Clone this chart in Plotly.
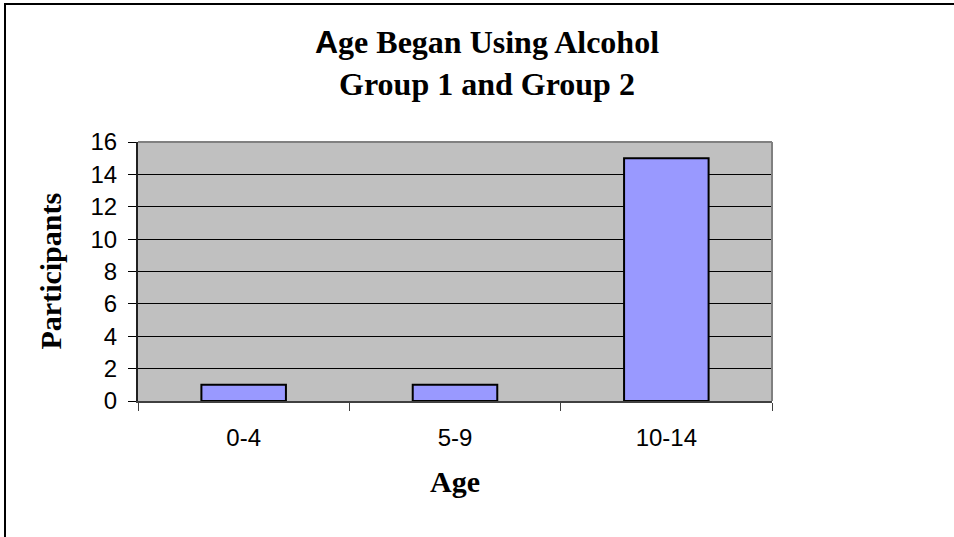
import plotly.graph_objects as go

categories = ["0-4", "5-9", "10-14"]
participants = [1, 1, 15]
y_ticks = [0, 2, 4, 6, 8, 10, 12, 14, 16]

title_lines = [
    "<b><span style='font-family:Liberation Sans, Arial, sans-serif'>A</span>ge Began Using Alcohol</b>",
    "<b>Group 1 and Group 2</b>",
]
x_title = "Age"
y_title = "Participants"

W, H = 954, 537
L, R, T, B = 138, 182, 142, 136
pw, ph = W - L - R, H - T - B

def px_x(x):
    return (x - L) / pw

def px_y(y):
    return (H - B - y) / ph

fig = go.Figure(
    go.Bar(
        x=categories,
        y=participants,
        marker=dict(color="#9999FF", line=dict(color="#000000", width=2)),
        width=0.4,
    )
)

fig.update_layout(
    width=W,
    height=H,
    margin=dict(l=L, r=R, t=T, b=B),
    paper_bgcolor="white",
    plot_bgcolor="#C0C0C0",
    showlegend=False,
    title=dict(
        text="<br>".join(title_lines),
        font=dict(family="Liberation Serif, Times New Roman, serif", size=32, color="black"),
        x=487 / W,
        xref="container",
        xanchor="center",
        y=1 - 53 / H,
        yref="container",
        yanchor="top",
    ),
    xaxis=dict(
        type="category",
        range=[-0.5, 2.5],
        showgrid=False,
        showline=True,
        linecolor="#404040",
        linewidth=2,
        ticks="outside",
        tickson="boundaries",
        ticklen=8,
        tickcolor="#404040",
        tickfont=dict(family="Liberation Sans, Arial, sans-serif", size=24, color="black"),
        ticklabelstandoff=14,
    ),
    yaxis=dict(
        range=[0, 16],
        tickvals=y_ticks,
        showgrid=True,
        gridcolor="black",
        gridwidth=1,
        showline=True,
        linecolor="#202020",
        linewidth=2,
        ticks="outside",
        ticklen=8,
        tickcolor="black",
        tickfont=dict(family="Liberation Sans, Arial, sans-serif", size=24, color="black"),
        ticklabelstandoff=6,
        zeroline=False,
    ),
    shapes=[
        dict(type="line", xref="paper", yref="paper", x0=0, x1=1, y0=1, y1=1,
             line=dict(color="#808080", width=2)),
        dict(type="line", xref="paper", yref="paper", x0=1, x1=1, y0=0, y1=1,
             line=dict(color="#808080", width=2)),
        dict(type="rect", xref="paper", yref="paper",
             x0=px_x(5), x1=px_x(W + 20), y0=px_y(H + 20), y1=px_y(4),
             line=dict(color="black", width=2)),
    ],
    annotations=[
        dict(text="<b>" + y_title + "</b>", xref="paper", yref="paper",
             x=px_x(50), y=0.5, textangle=-90, showarrow=False,
             xanchor="center", yanchor="middle",
             font=dict(family="Liberation Serif, Times New Roman, serif", size=30, color="black")),
        dict(text="<b>" + x_title + "</b>", xref="paper", yref="paper",
             x=0.5, y=px_y(481), showarrow=False,
             xanchor="center", yanchor="middle",
             font=dict(family="Liberation Serif, Times New Roman, serif", size=30, color="black")),
    ],
)

fig.write_html(
    "out.html",
    config={"displayModeBar": False},
    post_script="document.body.style.margin='0';",
)
